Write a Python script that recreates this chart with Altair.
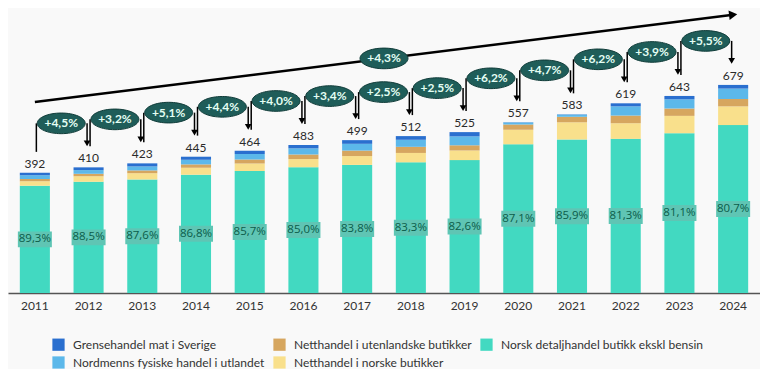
import altair as alt
import pandas as pd

# ---------------- data ----------------
years = [str(y) for y in range(2011, 2025)]
totals = [392, 410, 423, 445, 464, 483, 499, 512, 525, 557, 583, 619, 643, 679]

norsk = [350, 363, 370.5, 386, 398, 410.5, 418, 426.5, 433.6, 485, 501, 503, 521.5, 548]
netthandel_norske = [15, 18, 20.5, 22.7, 24.4, 26.5, 28.8, 30.5, 31.4, 48, 56, 51, 56.5, 61]
netthandel_utenl = [7, 8, 9, 11, 13, 15, 18, 20, 17, 17, 18, 25, 24, 24]
fysiske_utland = [12, 12, 13, 15, 18, 20, 22, 23, 29, 6, 7, 30, 30, 34]
grensehandel = [8, 9, 10, 10, 11, 11, 12, 12, 14, 1, 1, 10, 11, 12]

norsk_pct = ["89,3%", "88,5%", "87,6%", "86,8%", "85,7%", "85,0%", "83,8%",
             "83,3%", "82,6%", "87,1%", "85,9%", "81,3%", "81,1%", "80,7%"]
growth = ["+4,5%", "+3,2%", "+5,1%", "+4,4%", "+4,0%", "+3,4%", "+2,5%",
          "+2,5%", "+6,2%", "+4,7%", "+6,2%", "+3,9%", "+5,5%"]

trend_years = ["2011", "2024"]
trend_vals = [623, 908]
trend_label = "+4,3%"
trend_label_year = "2017"
trend_label_val = 765.5

cat_names = [
    "Norsk detaljhandel butikk ekskl bensin",
    "Netthandel i norske butikker",
    "Netthandel i utenlandske butikker",
    "Nordmenns fysiske handel i utlandet",
    "Grensehandel mat i Sverige",
]
series = [norsk, netthandel_norske, netthandel_utenl, fysiske_utland, grensehandel]

# legend order (laid out column by column, 2 rows)
legend_order = [
    "Grensehandel mat i Sverige",
    "Nordmenns fysiske handel i utlandet",
    "Netthandel i utenlandske butikker",
    "Netthandel i norske butikker",
    "Norsk detaljhandel butikk ekskl bensin",
]
legend_colors = ["#2a6fcf", "#5cb8ea", "#d6a65f", "#f9e08c", "#42d9c1"]

# ---------------- tables ----------------
rows = []
for ci, (name, vals) in enumerate(zip(cat_names, series)):
    for y, v in zip(years, vals):
        rows.append({"year": y, "cat": name, "value": v, "ord": ci})
stack_df = pd.DataFrame(rows)

year_df = pd.DataFrame({"year": years, "total": totals, "norsk": norsk, "pct": norsk_pct})
year_df["mid"] = year_df["norsk"] / 2

conn_df = pd.DataFrame({
    "year": years[:-1],
    "next_year": years[1:],
    "total": totals[:-1],
    "next_total": totals[1:],
    "label": growth,
})
trend_df = pd.DataFrame({"year": trend_years, "val": trend_vals})
trend_end_df = trend_df.iloc[[-1]]
big_df = pd.DataFrame({"year": [trend_label_year], "val": [trend_label_val], "label": [trend_label]})

# ---------------- helpers ----------------
LATO = "Lato, Roboto, sans-serif"
SANS = "'Open Sans', Lato, sans-serif"
xscale = alt.Scale(domain=years, paddingInner=0.44, paddingOuter=0.22)
yscale = alt.Scale(domain=[0, 930], nice=False, zero=True)
STEP_HALF = 752 / 14 / 2

ELLIPSE = ("M -1 0 C -1 -0.2375 -0.5523 -0.43 0 -0.43 C 0.5523 -0.43 1 -0.2375 1 0 "
           "C 1 0.2375 0.5523 0.43 0 0.43 C -0.5523 0.43 -1 0.2375 -1 0 Z")
BOX = "M -1 -0.47 L 1 -0.47 L 1 0.47 L -1 0.47 Z"


def X(field):
    return alt.X(f"{field}:N", scale=xscale, sort=years, title=None,
                 axis=alt.Axis(labelAngle=0, ticks=False, domainColor="#555555",
                               domainWidth=1.5, labelFontSize=12, labelFont=LATO,
                               labelColor="#333333", labelPadding=7, grid=False))


def Y(field, stack=None):
    if stack:
        return alt.Y(f"{field}:Q", scale=yscale, axis=None, stack=stack, title=None)
    return alt.Y(f"{field}:Q", scale=yscale, axis=None, title=None)


bars = alt.Chart(stack_df).mark_bar().encode(
    x=X("year"),
    y=Y("value", stack="zero"),
    color=alt.Color("cat:N", scale=alt.Scale(domain=legend_order, range=legend_colors),
                    legend=alt.Legend(title=None, orient="none", legendX=44, legendY=330,
                                      columns=3, symbolType="square", symbolSize=150,
                                      labelFontSize=12, labelFont=LATO, labelColor="#333333",
                                      rowPadding=5, columnPadding=8, labelLimit=400,
                                      symbolStrokeWidth=0, labelOffset=8)),
    order=alt.Order("ord:Q", sort="ascending"),
)

pct_box = alt.Chart(year_df).mark_point(shape=BOX, filled=True, size=1156, color="#5fc5b4",
                                        opacity=1).encode(x=X("year"), y=Y("mid"))
pct_text = alt.Chart(year_df).mark_text(font=SANS, fontSize=11.5, color="#0b5c49").encode(
    x=X("year"), y=Y("mid"), text="pct:N")

total_text = alt.Chart(year_df).mark_text(dy=-9, font=LATO, fontSize=12, color="#2a2a2a").encode(
    x=X("year"), y=Y("total"), text="total:Q")

left_rule = alt.Chart(conn_df).mark_rule(color="black", strokeWidth=1.5, xOffset=1.5,
                                         yOffset=-21, y2Offset=-44).encode(
    x=X("year"), y=Y("total"), y2="next_total:Q")
right_rule = alt.Chart(conn_df).mark_rule(color="black", strokeWidth=1.5, xOffset=-1.5,
                                          yOffset=-44, y2Offset=-25).encode(
    x=X("next_year"), y=Y("next_total"), y2="next_total:Q")
arrowhead = alt.Chart(conn_df).mark_point(shape="triangle-down", filled=True, size=45,
                                          color="black", opacity=1, xOffset=-1.5,
                                          yOffset=-24).encode(x=X("next_year"), y=Y("next_total"))

ellipses = alt.Chart(conn_df).mark_point(shape=ELLIPSE, filled=True, size=2304, color="#1f5d59",
                                         opacity=1, stroke="#103c39", strokeWidth=1,
                                         xOffset=STEP_HALF - 0.5, yOffset=-44).encode(
    x=X("year"), y=Y("next_total"))
ell_text = alt.Chart(conn_df).mark_text(font=LATO, fontWeight="bold", fontSize=12,
                                        color="#e4fff4", dx=STEP_HALF - 0.5, dy=-44).encode(
    x=X("year"), y=Y("next_total"), text="label:N")

trend_line = alt.Chart(trend_df).mark_line(color="black", strokeWidth=2.5).encode(
    x=X("year"), y=Y("val"))
trend_arrow = alt.Chart(trend_end_df).mark_point(shape="triangle-right", filled=True, size=90,
                                                 angle=353, color="black", opacity=1).encode(
    x=X("year"), y=Y("val"))

big_ell = alt.Chart(big_df).mark_point(shape=ELLIPSE, filled=True, size=2304, color="#1f5d59",
                                       opacity=1, stroke="#103c39", strokeWidth=1,
                                       xOffset=STEP_HALF).encode(x=X("year"), y=Y("val"))
big_text = alt.Chart(big_df).mark_text(font=LATO, fontWeight="bold", fontSize=12,
                                       color="#e4fff4", dx=STEP_HALF).encode(
    x=X("year"), y=Y("val"), text="label:N")

chart = alt.layer(
    bars, pct_box, pct_text, total_text,
    left_rule, right_rule, arrowhead,
    trend_line, trend_arrow,
    ellipses, ell_text, big_ell, big_text,
).properties(
    width=752, height=285,
    padding={"left": 0, "right": 0, "top": 0, "bottom": 0},
    background="#f9f9f9",
).configure_view(stroke=None)

chart.save("out.html", embed_options={"renderer": "svg", "actions": False})
